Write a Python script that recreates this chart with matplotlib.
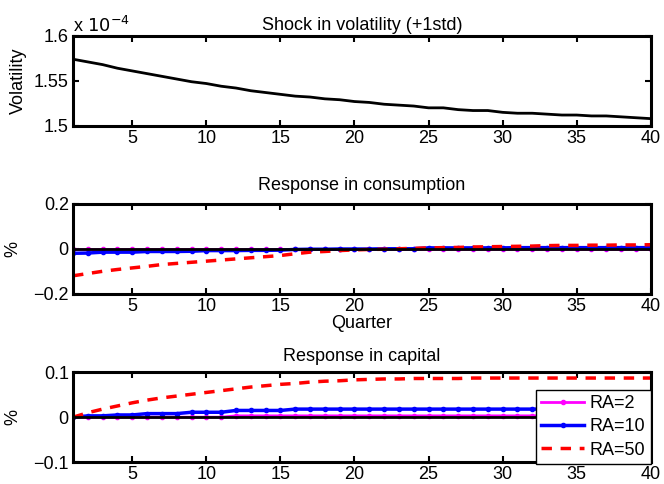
import numpy as np
import matplotlib
matplotlib.use('Agg')
import matplotlib.pyplot as plt

plt.rcParams['font.family'] = ['Liberation Sans', 'DejaVu Sans']

quarter = np.arange(1, 41)

# volatility, in units of 1e-4
volatility = [1.574, 1.571, 1.568, 1.564, 1.561, 1.558, 1.555, 1.552, 1.549, 1.547,
              1.544, 1.542, 1.539, 1.537, 1.535, 1.533, 1.532, 1.530, 1.529, 1.527,
              1.526, 1.524, 1.523, 1.522, 1.520, 1.520, 1.518, 1.517, 1.517, 1.515,
              1.514, 1.514, 1.513, 1.512, 1.512, 1.511, 1.511, 1.510, 1.509, 1.508]

cons_ra2 = [0.0] * 40
cons_ra10 = [-0.020, -0.019, -0.015, -0.015, -0.015, -0.012, -0.012, -0.012, -0.011, -0.008,
             -0.008, -0.008, -0.007, -0.007, -0.006, -0.003, -0.002, -0.002, -0.001, -0.001,
             -0.001, 0.000, 0.000, 0.000, 0.004, 0.004, 0.004, 0.004, 0.004, 0.004,
             0.005, 0.005, 0.005, 0.005, 0.005, 0.005, 0.005, 0.005, 0.005, 0.005]
cons_ra50 = [-0.120, -0.110, -0.100, -0.092, -0.085, -0.078, -0.070, -0.065, -0.060, -0.055,
             -0.050, -0.045, -0.040, -0.035, -0.030, -0.022, -0.015, -0.012, -0.008, -0.005,
             -0.003, -0.002, 0.000, 0.002, 0.004, 0.005, 0.006, 0.008, 0.009, 0.010,
             0.011, 0.012, 0.014, 0.015, 0.015, 0.016, 0.016, 0.017, 0.017, 0.018]

cap_ra2 = [0.0] * 11 + [0.003] * 29
cap_ra10 = [0.000, 0.003, 0.003, 0.005, 0.005, 0.008, 0.008, 0.008, 0.011, 0.011,
            0.011, 0.015, 0.015, 0.015, 0.015, 0.018, 0.018, 0.018, 0.018, 0.018,
            0.018, 0.018, 0.018, 0.018, 0.018, 0.018, 0.018, 0.018, 0.018, 0.018,
            0.018, 0.018, 0.018, 0.018, 0.018, 0.018, 0.018, 0.018, 0.018, 0.018]
cap_ra50 = [0.000, 0.010, 0.018, 0.025, 0.032, 0.038, 0.043, 0.047, 0.051, 0.055,
            0.059, 0.063, 0.067, 0.070, 0.073, 0.075, 0.078, 0.080, 0.081, 0.083,
            0.084, 0.085, 0.085, 0.086, 0.086, 0.086, 0.086, 0.087, 0.087, 0.087,
            0.087, 0.087, 0.087, 0.087, 0.087, 0.087, 0.087, 0.087, 0.087, 0.087]

fs = 13
fig = plt.figure(figsize=(6.64, 4.84), dpi=100)
ax1 = fig.add_axes([0.110, 0.740, 0.870, 0.186])
ax2 = fig.add_axes([0.110, 0.393, 0.870, 0.186])
ax3 = fig.add_axes([0.110, 0.045, 0.870, 0.186])

for ax in (ax1, ax2, ax3):
    ax.set_xlim(1, 40)
    ax.set_xticks([5, 10, 15, 20, 25, 30, 35, 40])
    ax.tick_params(direction='in', top=True, right=True, length=4, width=1.5,
                   labelsize=fs, pad=3)
    for s in ax.spines.values():
        s.set_linewidth(2.2)

ax1.plot(quarter, volatility, color='black', lw=2)
ax1.set_ylim(1.5, 1.6)
ax1.set_yticks([1.5, 1.55, 1.6])
ax1.set_yticklabels(['1.5', '1.55', '1.6'])
ax1.set_ylabel('Volatility', fontsize=fs)
ax1.set_title('Shock in volatility (+1std)', fontsize=fs, pad=4)
ax1.text(0.0, 1.0, r'x $10^{-4}$', transform=ax1.transAxes, fontsize=fs,
         ha='left', va='bottom')

ax2.plot(quarter, cons_ra2, color='magenta', lw=2, marker='.', ms=6)
ax2.plot(quarter, cons_ra10, color='blue', lw=2.5, marker='.', ms=6)
ax2.plot(quarter, cons_ra50, color='red', lw=2.5, ls='--', dashes=(3, 2.5))
ax2.axhline(0, color='black', lw=2)
ax2.set_ylim(-0.2, 0.2)
ax2.set_yticks([-0.2, 0, 0.2])
ax2.set_yticklabels(['\u22120.2', '0', '0.2'])
ax2.set_ylabel('%', fontsize=fs)
ax2.set_xlabel('Quarter', fontsize=fs, labelpad=0)
ax2.set_title('Response in consumption', fontsize=fs, pad=10)

l1, = ax3.plot(quarter, cap_ra2, color='magenta', lw=2, marker='.', ms=6)
l2, = ax3.plot(quarter, cap_ra10, color='blue', lw=2.5, marker='.', ms=6)
l3, = ax3.plot(quarter, cap_ra50, color='red', lw=2.5, ls='--', dashes=(3, 2.5))
ax3.axhline(0, color='black', lw=2)
ax3.set_ylim(-0.1, 0.1)
ax3.set_yticks([-0.1, 0, 0.1])
ax3.set_yticklabels(['\u22120.1', '0', '0.1'])
ax3.set_ylabel('%', fontsize=fs)
ax3.set_title('Response in capital', fontsize=fs, pad=8)
leg = ax3.legend([l1, l2, l3], ['RA=2', 'RA=10', 'RA=50'], loc='lower right',
                 bbox_to_anchor=(1.0, -0.02), fontsize=fs, frameon=True, fancybox=False,
                 edgecolor='black', framealpha=1, handlelength=2.4, borderpad=0.3,
                 labelspacing=0.35, handletextpad=0.3, borderaxespad=0)
leg.get_frame().set_linewidth(1)

ax1.yaxis.set_label_coords(-0.080, 0.5)
ax2.yaxis.set_label_coords(-0.090, 0.5)
ax3.yaxis.set_label_coords(-0.090, 0.5)

fig.savefig('out.png', dpi=100)
